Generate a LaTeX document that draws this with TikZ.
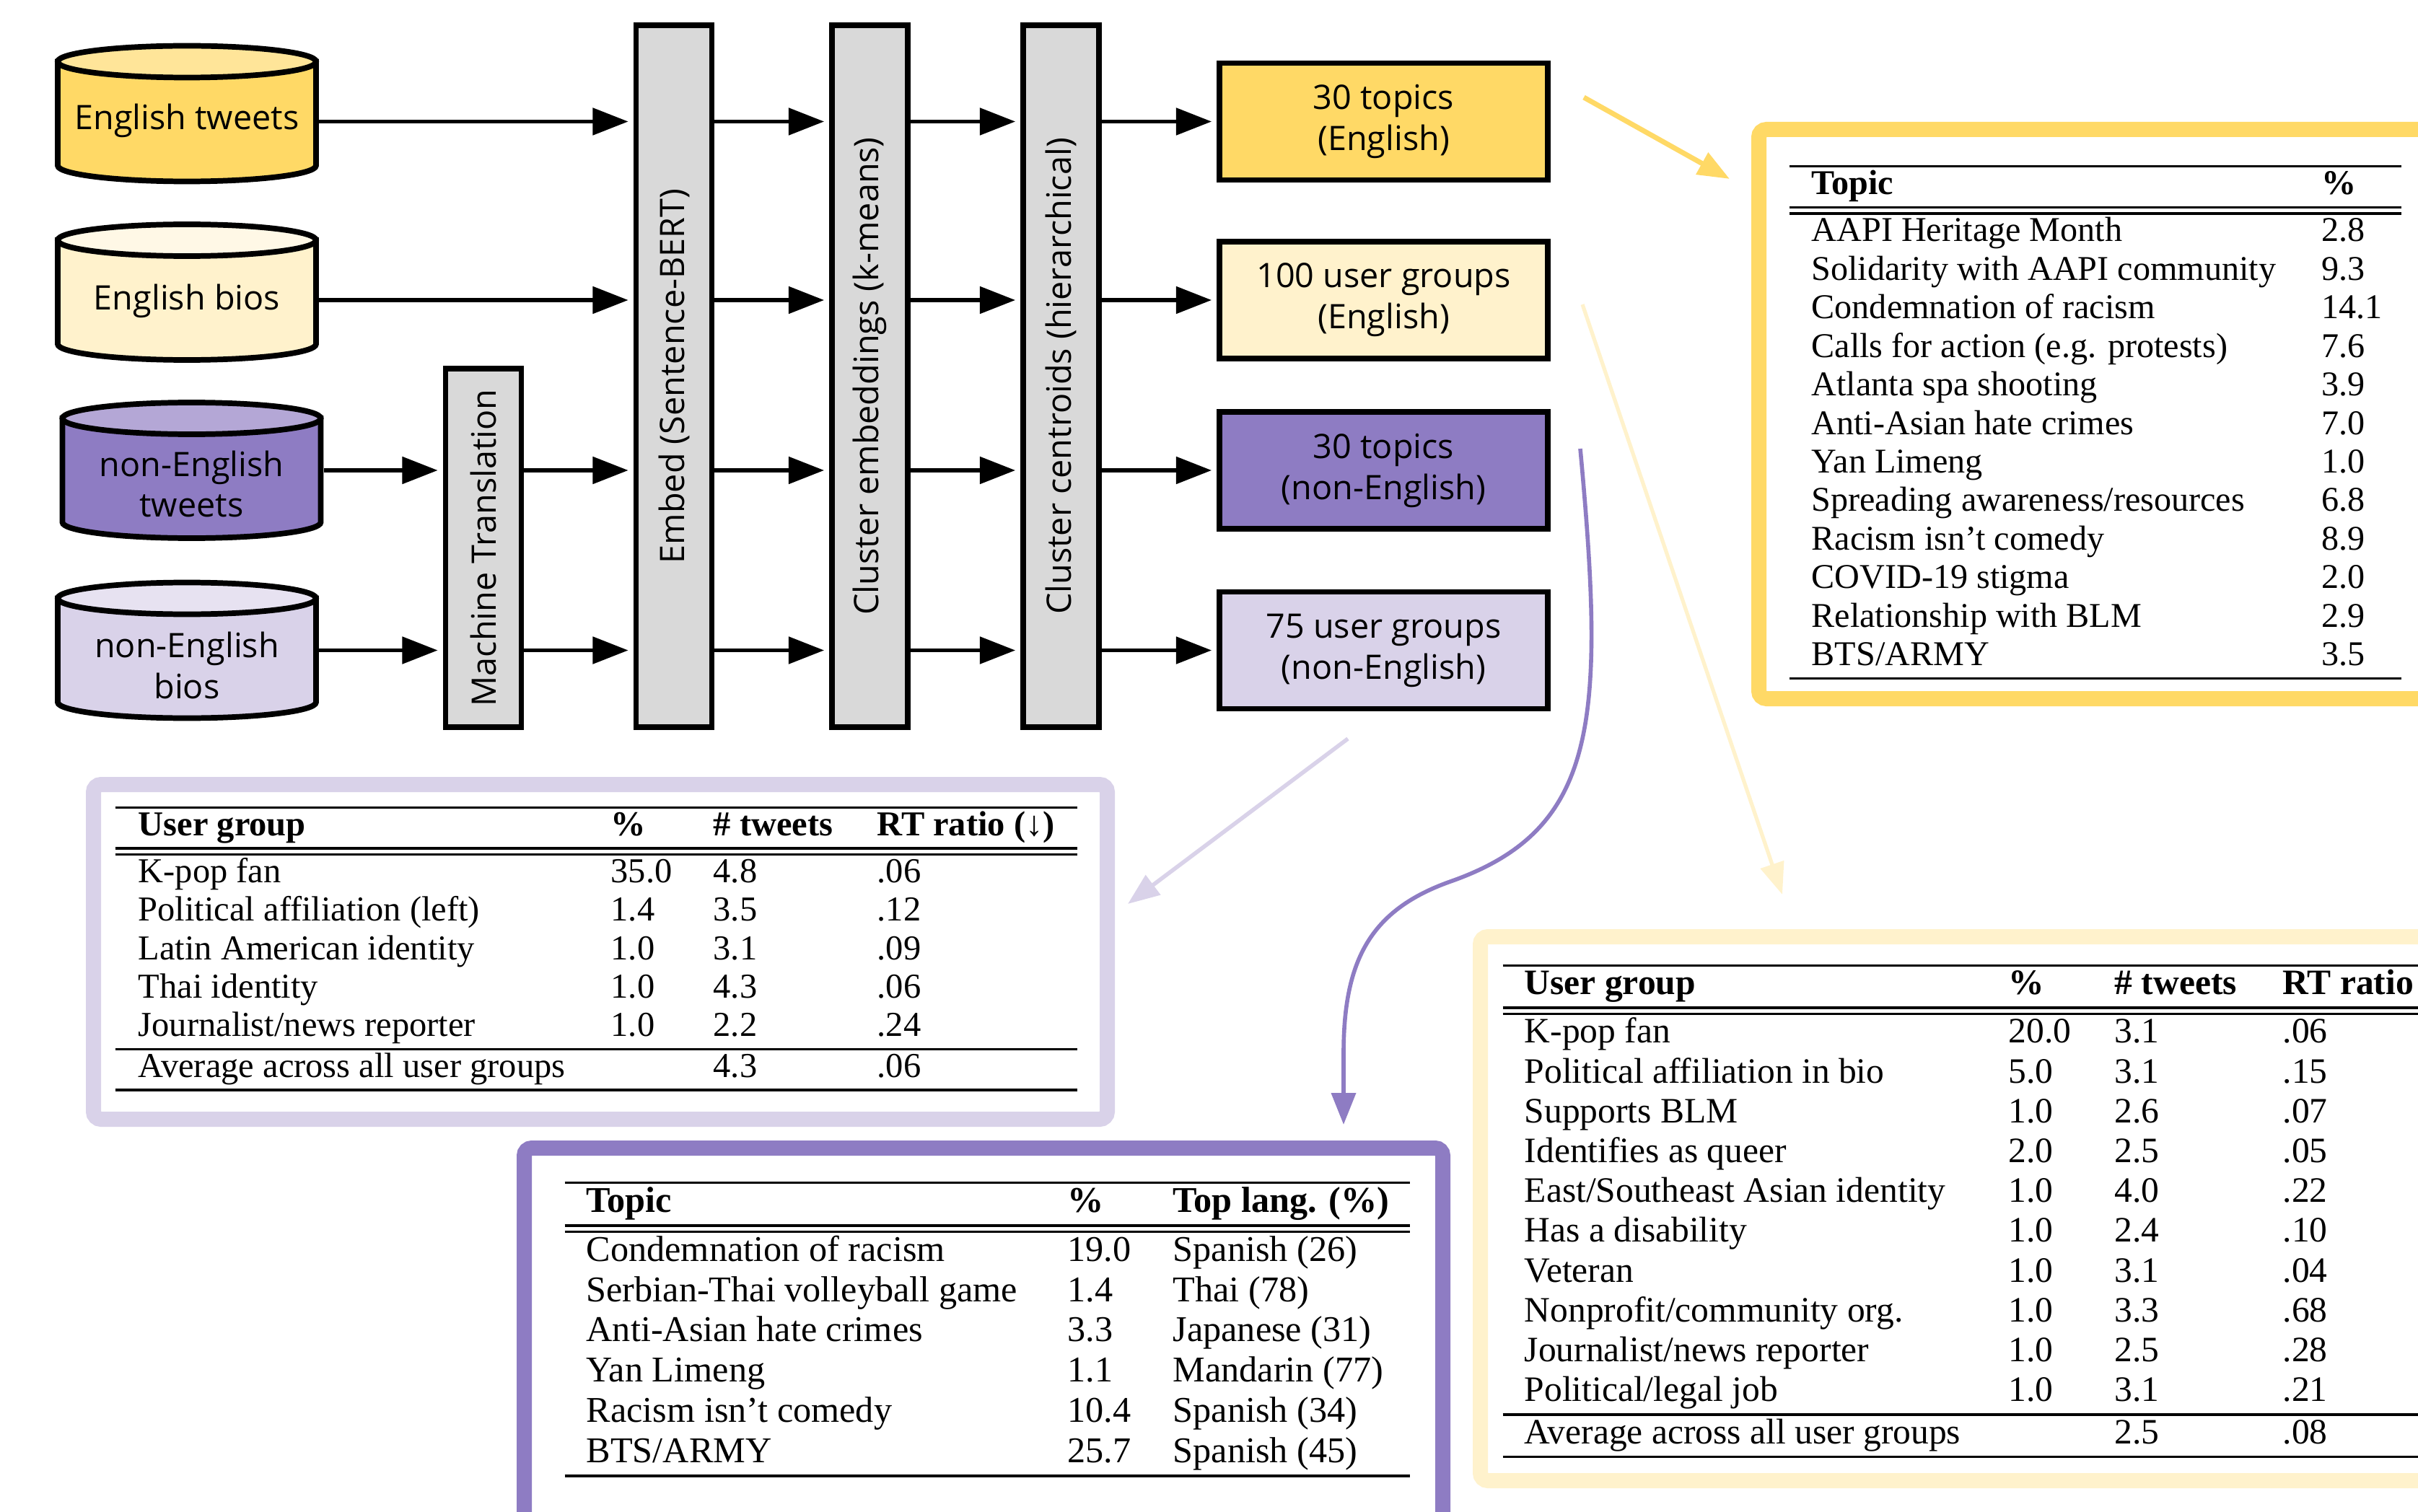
\documentclass[tikz,border=0pt]{standalone}
\usepackage{fontspec}
\setmainfont{Open Sans}
\newfontfamily\tabfont{Liberation Serif}
\usetikzlibrary{arrows.meta}

\definecolor{ylwdark}{HTML}{FFD966}
\definecolor{ylwtop}{HTML}{FFE599}
\definecolor{ylwlight}{HTML}{FFF2CC}
\definecolor{ylwlighttop}{HTML}{FFF8E6}
\definecolor{purdark}{HTML}{8E7CC3}
\definecolor{purtop}{HTML}{B4A7D6}
\definecolor{purlight}{HTML}{D9D2E9}
\definecolor{purlighttop}{HTML}{E7E2F1}
\definecolor{stagegray}{HTML}{D9D9D9}

\setlength{\arrayrulewidth}{1pt}
\setlength{\doublerulesep}{2.4pt}

\begin{document}
\begin{tikzpicture}[
        font=\fontsize{13.3}{16.2}\selectfont,
        dbline/.style={line width=2.2pt},
        dbtext/.style={minimum width=3.66cm, inner sep=0pt, outer sep=0pt, align=center},
        stage/.style={draw, line width=2.2pt, fill=stagegray, rotate=90,
            minimum width=9.73cm, minimum height=1.05cm},
        result/.style={draw, line width=2.2pt, minimum width=4.55cm, minimum height=1.62cm, align=center},
        flow/.style={-{Triangle[length=14pt,width=10.5pt]}, line width=1.6pt, shorten >=2pt},
        frame/.style={line width=0.21cm, rounded corners=3pt, fill=white},
        pointer/.style={-{Triangle[length=12.5pt,width=9.5pt]}},
    ]
        \def\rx{1.79}                               % half width of a database
        \def\ry{0.22}                               % half height of its end ellipse
        \def\hb{0.72}                               % half height of its body

        \useasboundingbox (0,0) rectangle (33.51,-20.96);
        \clip (0,0) rectangle (33.51,-20.96);

        % Input data, drawn as databases
        \foreach \cx/\cy/\body/\cap in {2.59/1.575/ylwdark/ylwtop, 2.59/4.05/ylwlight/ylwlighttop,
                2.655/6.52/purdark/purtop, 2.59/9.015/purlight/purlighttop}{
            \filldraw [dbline, fill=\body] (\cx-\rx,-\cy+\hb) -- (\cx-\rx,-\cy-\hb)
                arc [start angle=180, end angle=360, x radius=\rx, y radius=\ry] -- (\cx+\rx,-\cy+\hb) -- cycle;
            \filldraw [dbline, fill=\cap] (\cx,-\cy+\hb) ellipse [x radius=\rx, y radius=\ry];
        }
        \node (etw) at (2.59,-1.67) [dbtext] {English tweets};
        \node (ebio) at (2.59,-4.17) [dbtext] {English bios};
        \node (ntw) at (2.655,-6.71) [dbtext] {non-English\\tweets};
        \node (nbio) at (2.59,-9.22) [dbtext] {non-English\\bios};

        % Processing stages (rotated, text reads upwards)
        \node (mt) at (6.70,-7.595) [stage, minimum width=4.97cm] {Machine Translation};
        \node (embed) at (9.34,-5.215) [stage] {Embed (Sentence-BERT)};
        \node (clemb) at (12.055,-5.215) [stage] {Cluster embeddings (k-means)};
        \node (clcen) at (14.705,-5.215) [stage] {Cluster centroids (hierarchical)};

        % Outputs
        \node (topEn) at (19.175,-1.685) [result, fill=ylwdark] {30 topics\\(English)};
        \node (grpEn) at (19.175,-4.16) [result, fill=ylwlight] {100 user groups\\(English)};
        \node (topNon) at (19.175,-6.52) [result, fill=purdark] {30 topics\\(non-English)};
        \node (grpNon) at (19.175,-9.015) [result, fill=purlight] {75 user groups\\(non-English)};

        \draw [flow] (etw.east |- topEn) -- (topEn -| embed.north);
        \draw [flow] (ebio.east |- grpEn) -- (grpEn -| embed.north);
        \draw [flow] (ntw.east |- topNon) -- (topNon -| mt.north);
        \draw [flow] (nbio.east |- grpNon) -- (grpNon -| mt.north);
        \draw [flow] (topNon -| mt.south) -- (topNon -| embed.north);
        \draw [flow] (grpNon -| mt.south) -- (grpNon -| embed.north);

        \foreach \res in {topEn, grpEn, topNon, grpNon}{
            \draw [flow] (\res -| embed.south) -- (\res -| clemb.north);
            \draw [flow] (\res -| clemb.south) -- (\res -| clcen.north);
            \draw [flow] (\res -| clcen.south) -- (\res.west);
        }

        % Frames round the tables
        \draw [frame, draw=ylwdark] (24.375,-1.795) rectangle (34.2,-9.685);
        \draw [frame, draw=purlight] (1.295,-10.875) rectangle (15.345,-15.515);
        \draw [frame, draw=purdark] (7.265,-15.915) rectangle (19.995,-21.3);
        \draw [frame, draw=ylwlight] (20.515,-12.985) rectangle (34.2,-20.525);

        % Topics (English)
        \node (tabTopEn) at (24.79,-2.28) [anchor=north west, inner sep=0pt]
            {\tabfont\fontsize{13.7}{15.2}\selectfont
            \begin{tabular}{@{\hspace{.31cm}}p{7.07cm}@{}p{1.1cm}@{}}
                \hline
                \textbf{Topic} & \textbf{\%}\\
                \hline\hline
                AAPI Heritage Month & 2.8\\
                Solidarity with AAPI community & 9.3\\
                Condemnation of racism & 14.1\\
                Calls for action (e.g. protests) & 7.6\\
                Atlanta spa shooting & 3.9\\
                Anti-Asian hate crimes & 7.0\\
                Yan Limeng & 1.0\\
                Spreading awareness/resources & 6.8\\
                Racism isn’t comedy & 8.9\\
                COVID-19 stigma & 2.0\\
                Relationship with BLM & 2.9\\
                BTS/ARMY & 3.5\\
                \hline
            \end{tabular}};

        % User groups (non-English)
        \node (tabGrpNon) at (1.59,-11.17) [anchor=north west, inner sep=0pt]
            {\tabfont\fontsize{13.8}{15.15}\selectfont
            \begin{tabular}{@{\hspace{.32cm}}p{6.55cm}@{}p{1.42cm}@{}p{2.27cm}@{}p{2.77cm}@{}}
                \hline
                \textbf{User group} & \textbf{\%} & \textbf{\# tweets} & \textbf{RT ratio (↓)}\\
                \hline\hline
                K-pop fan & 35.0 & 4.8 & .06\\
                Political affiliation (left) & 1.4 & 3.5 & .12\\
                Latin American identity & 1.0 & 3.1 & .09\\
                Thai identity & 1.0 & 4.3 & .06\\
                Journalist/news reporter & 1.0 & 2.2 & .24\\
                \hline
                Average across all user groups & & 4.3 & .06\\
                \hline
            \end{tabular}};

        % Topics (non-English)
        \node (tabTopNon) at (7.82,-16.37) [anchor=north west, inner sep=0pt]
            {\tabfont\fontsize{14.3}{15.9}\selectfont
            \begin{tabular}{@{\hspace{.30cm}}p{6.67cm}@{}p{1.46cm}@{}p{3.28cm}@{}}
                \hline
                \textbf{Topic} & \textbf{\%} & \textbf{Top lang. (\%)}\\
                \hline\hline
                Condemnation of racism & 19.0 & Spanish (26)\\
                Serbian-Thai volleyball game & 1.4 & Thai (78)\\
                Anti-Asian hate crimes & 3.3 & Japanese (31)\\
                Yan Limeng & 1.1 & Mandarin (77)\\
                Racism isn’t comedy & 10.4 & Spanish (34)\\
                BTS/ARMY & 25.7 & Spanish (45)\\
                \hline
            \end{tabular}};

        % User groups (English)
        \node (tabGrpEn) at (20.82,-13.36) [anchor=north west, inner sep=0pt]
            {\tabfont\fontsize{14.1}{15.7}\selectfont
            \begin{tabular}{@{\hspace{.30cm}}p{6.71cm}@{}p{1.47cm}@{}p{2.33cm}@{}p{2.7cm}@{}}
                \hline
                \textbf{User group} & \textbf{\%} & \textbf{\# tweets} & \textbf{RT ratio (↓)}\\
                \hline\hline
                K-pop fan & 20.0 & 3.1 & .06\\
                Political affiliation in bio & 5.0 & 3.1 & .15\\
                Supports BLM & 1.0 & 2.6 & .07\\
                Identifies as queer & 2.0 & 2.5 & .05\\
                East/Southeast Asian identity & 1.0 & 4.0 & .22\\
                Has a disability & 1.0 & 2.4 & .10\\
                Veteran & 1.0 & 3.1 & .04\\
                Nonprofit/community org. & 1.0 & 3.3 & .68\\
                Journalist/news reporter & 1.0 & 2.5 & .28\\
                Political/legal job & 1.0 & 3.1 & .21\\
                \hline
                Average across all user groups & & 2.5 & .08\\
                \hline
            \end{tabular}};

        % Pointers from the outputs to their tables
        \coordinate (ylwFrom) at (21.95,-1.35);
        \coordinate (ylwTo) at (23.97,-2.48);
        \coordinate (ltyFrom) at (21.93,-4.22);
        \coordinate (ltyTo) at (24.70,-12.40);
        \coordinate (ltpFrom) at (18.68,-10.24);
        \coordinate (ltpTo) at (15.63,-12.53);
        \coordinate (purFrom) at (21.90,-6.22);
        \coordinate (purMid) at (20.10,-12.22);
        \coordinate (purTo) at (18.62,-15.59);

        \draw [pointer, ylwdark, line width=2pt] (ylwFrom) -- (ylwTo);
        \draw [pointer, ylwlight, line width=1.5pt] (ltyFrom) -- (ltyTo);
        \draw [pointer, purlight, line width=1.6pt] (ltpFrom) -- (ltpTo);
        \draw [pointer, purdark, line width=1.6pt] (purFrom)
            .. controls (22.25,-10.0) and (22.15,-11.5) .. (purMid)
            .. controls (19.00,-12.61) and (18.62,-13.3) .. (18.62,-14.6) -- (purTo);

\end{tikzpicture}
\end{document}
